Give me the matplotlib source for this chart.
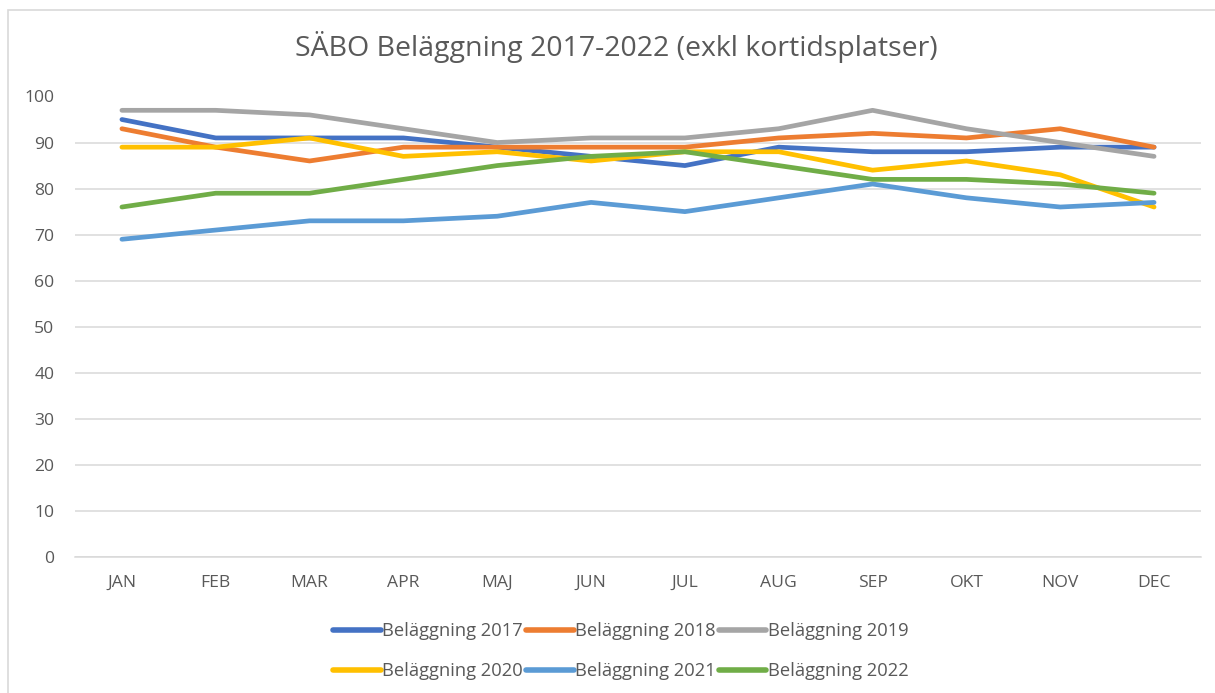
import matplotlib
matplotlib.use("Agg")
import matplotlib.pyplot as plt
from matplotlib.patches import Rectangle

months = ["JAN", "FEB", "MAR", "APR", "MAJ", "JUN", "JUL", "AUG", "SEP", "OKT", "NOV", "DEC"]
b2017 = [95, 91, 91, 91, 89, 87, 85, 89, 88, 88, 89, 89]
b2018 = [93, 89, 86, 89, 89, 89, 89, 91, 92, 91, 93, 89]
b2019 = [97, 97, 96, 93, 90, 91, 91, 93, 97, 93, 90, 87]
b2020 = [89, 89, 91, 87, 88, 86, 88, 88, 84, 86, 83, 76]
b2021 = [69, 71, 73, 73, 74, 77, 75, 78, 81, 78, 76, 77]
b2022 = [76, 79, 79, 82, 85, 87, 88, 85, 82, 82, 81, 79]
labels = ["Beläggning 2017", "Beläggning 2018", "Beläggning 2019",
          "Beläggning 2020", "Beläggning 2021", "Beläggning 2022"]
series = [b2017, b2018, b2019, b2020, b2021, b2022]
colors = ["#4472C4", "#ED7D31", "#A5A5A5", "#FFC000", "#5B9BD5", "#70AD47"]
yticks = list(range(0, 101, 10))
title = "SÄBO Beläggning 2017-2022 (exkl kortidsplatser)"

plt.rcParams['font.family'] = ['Open Sans', 'DejaVu Sans']
txtc = "#595959"

W, H = 1215, 693
fig = plt.figure(figsize=(W / 100, H / 100), dpi=100)
fig.patch.set_facecolor("white")

# chart border
fig.patches.append(Rectangle((8 / W, -0.1), 1.2, 1 - 10 / H + 0.1,
                             transform=fig.transFigure, fill=False,
                             edgecolor="#D9D9D9", linewidth=1.2, zorder=0))

ax = fig.add_axes([75 / W, (H - 557) / H, (1201 - 75) / W, (557 - 96.5) / H])
x = list(range(len(months)))
lines = []
for s, c, l in zip(series, colors, labels):
    ln, = ax.plot(x, s, color=c, lw=3.4, solid_capstyle="round",
                  solid_joinstyle="round", label=l, zorder=3)
    lines.append(ln)

ax.set_xlim(-0.5, len(months) - 0.5)
ax.set_ylim(0, 100)
ax.set_yticks(yticks)
ax.set_xticks(x)
ax.set_xticklabels(months)
ax.grid(axis="y", color="#D9D9D9", lw=1.1, zorder=0)
ax.set_axisbelow(True)
for sp in ["top", "right", "left"]:
    ax.spines[sp].set_visible(False)
ax.spines["bottom"].set_color("#D9D9D9")
ax.spines["bottom"].set_linewidth(1.1)
ax.tick_params(axis="both", length=0, labelsize=12.6, labelcolor=txtc)
ax.tick_params(axis="y", pad=15)
ax.tick_params(axis="x", pad=13)

fig.text(616 / W, 1 - 47 / H, title, ha="center", va="center",
         fontsize=20.5, color=txtc)

# legend filled row by row (matplotlib fills columns first)
ncol, nrow = 3, 2
order = [r * ncol + c for c in range(ncol) for r in range(nrow)]
leg = fig.legend(handles=[lines[i] for i in order],
                 labels=[labels[i] for i in order], loc="center",
                 bbox_to_anchor=(621 / W, 1 - 651 / H), ncol=ncol,
                 frameon=False, fontsize=13.2, handlelength=2.6,
                 handletextpad=0.1, columnspacing=0.15, labelspacing=1.2)
for t in leg.get_texts():
    t.set_color(txtc)
for h in leg.legend_handles:
    h.set_linewidth(4)

fig.savefig("out.png", dpi=100, facecolor="white")
